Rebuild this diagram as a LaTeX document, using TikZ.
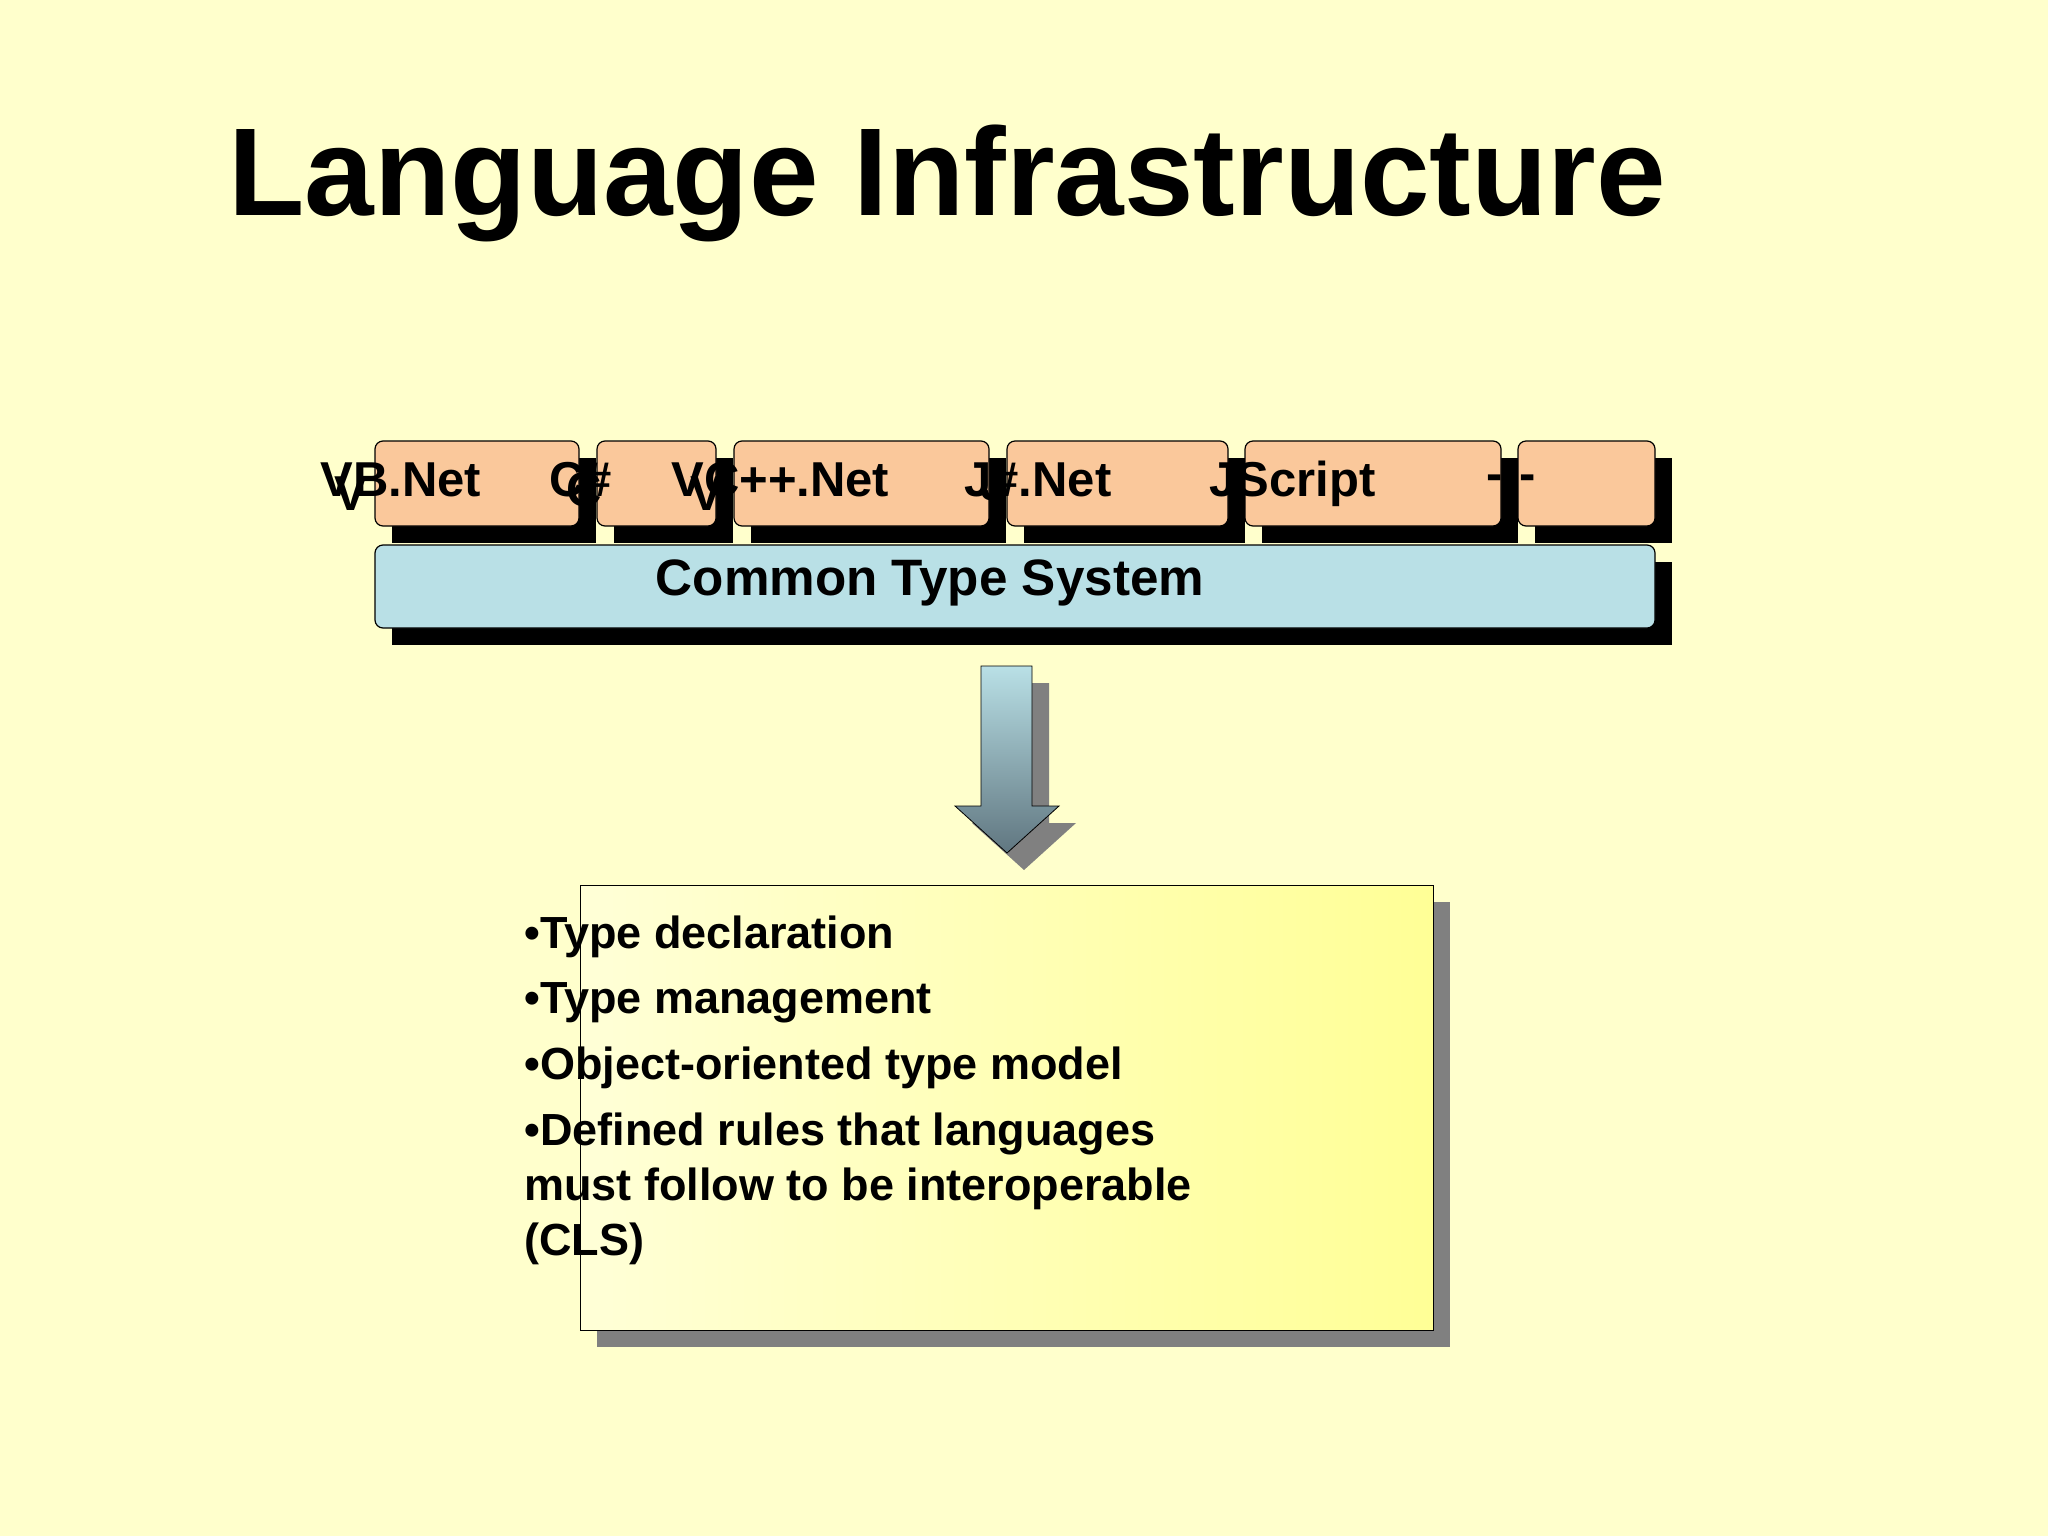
\documentclass[tikz,border=0pt]{standalone}
\usepackage{fontspec}
\setmainfont{Liberation Sans}
\begin{document}
\begin{tikzpicture}[x=0.5pt,y=-0.5pt,
  lang/.style={draw=black,rounded corners=4pt,line width=0.6pt},
  lbl/.style={font=\bfseries\fontsize{24.5}{28}\selectfont,anchor=base west,inner sep=0pt},
  bul/.style={font=\bfseries\fontsize{22.5}{26}\selectfont,anchor=base west,inner sep=0pt}]
\definecolor{bg}{RGB}{255,255,204}
\definecolor{lorange}{RGB}{250,200,155}
\definecolor{lblue}{RGB}{185,224,230}
\definecolor{slate}{RGB}{96,118,128}
\definecolor{ylight}{RGB}{255,255,215}
\definecolor{ydark}{RGB}{255,255,150}
\fill[bg] (0,0) rectangle (2048,1536);
\node[font=\bfseries\fontsize{62.5}{74}\selectfont,anchor=base west,inner sep=0pt] (title) at (228,215) {Language Infrastructure};
% language boxes
\foreach \a/\b in {375/579,597/716,734/989,1007/1228,1245/1501,1518/1655}{
  \fill[black] (\a+17,458) rectangle (\b+17,543);
}
\foreach \a/\b/\n in {375/579/vb,597/716/cs,734/989/vc,1007/1228/js,1245/1501/jscr,1518/1655/dd}{
  \draw[lang,fill=lorange] (\a,441) rectangle (\b,526);
  \coordinate (\n) at (\a,441);
}
% CTS
\fill[black] (392,562) rectangle (1672,645);
\draw[lang,fill=lblue] (375,545) rectangle (1655,628);
\node[font=\bfseries\fontsize{25.6}{30}\selectfont,anchor=base,inner sep=0pt] (cts) at (930,595) {Common Type System};
% labels
\node[lbl] (l1) at (320,496) {VB.Net};
\node[lbl] (l1b) at (334,510) {V};
\node[lbl] (l2) at (549,496) {C\#};
\node[lbl] (l2b) at (566,506) {C};
\node[lbl] (l3) at (671,496) {VC++.Net};
\node[lbl] (l3b) at (690,510) {V};
\node[lbl] (l4) at (964,496) {J\#.Net};
\node[lbl] (l4b) at (980,500) {J};
\node[lbl] (l5) at (1209,496) {JScript};
\node[lbl] (l6) at (1486,490) {-};
\node[lbl] (l6b) at (1519,490) {-};
% arrow
\fill[gray] (998,683) -- (1049,683) -- (1049,823) -- (1076,823) -- (1024,870) -- (972,823) -- (998,823) -- cycle;
\shade[top color=lblue,bottom color=slate,draw=black] (981,666) -- (1032,666) -- (1032,806) -- (1059,806) -- (1007,853) -- (955,806) -- (981,806) -- cycle;
\coordinate (arrtip) at (1007,853);
% info box
\fill[gray] (597,902) rectangle (1450,1347);
\shade[left color=ylight,right color=ydark,draw=black] (580,885) rectangle (1433,1330);
\node[bul] (b1) at (524,948) {•Type declaration};
\node[bul] (b2) at (524,1013) {•Type management};
\node[bul] (b3) at (524,1079) {•Object-oriented type model};
\node[bul] (b4) at (524,1145) {•Defined rules that languages};
\node[bul] (b5) at (524,1200) {must follow to be interoperable};
\node[bul] (b6) at (524,1255) {(CLS)};
\end{tikzpicture}
\end{document}
